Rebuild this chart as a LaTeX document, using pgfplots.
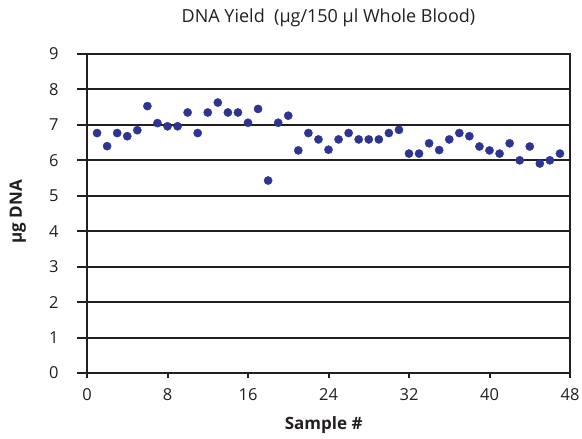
\documentclass[border=0pt]{standalone}
\usepackage{fontspec}
\setmainfont{Open Sans}
\usepackage{pgfplots}
\pgfplotsset{compat=1.18}
\definecolor{dotblue}{RGB}{46,52,145}
\definecolor{ink}{RGB}{35,31,32}
\begin{document}
\begin{tikzpicture}[x=1bp,y=1bp]
\path[use as bounding box] (0,0) rectangle (582,439);
\begin{axis}[
  at={(87bp,66bp)}, anchor=south west,
  width=483bp, height=319bp, scale only axis,
  xmin=0, xmax=48, ymin=0, ymax=9,
  xtick={0,8,...,48}, ytick={0,1,...,9},
  /pgf/number format/assume math mode=true,
  axis line style={ink, line width=2.2bp},
  ymajorgrids, grid style={ink, line width=2bp},
  tick style={ink, line width=2bp},
  tick align=outside, tick pos=left,
  major tick length=10bp,
  xtick style={/pgfplots/major tick length=5bp},
  ticklabel style={font=\fontsize{16.5bp}{19bp}\selectfont, text=ink},
  yticklabel style={xshift=-15bp},
  xticklabel style={yshift=-2bp},
  title={DNA Yield\ \ (µg/150 µl Whole Blood)},
  title style={at={(axis description cs:0.5,1)}, anchor=center, yshift=30bp, font=\fontsize{18bp}{21bp}\selectfont, text=ink},
  xlabel={\bfseries Sample \#},
  xlabel style={at={(axis description cs:0.49,0)}, anchor=center, yshift=-52bp, font=\fontsize{17bp}{20bp}\selectfont, text=ink},
  ylabel={\bfseries µg DNA},
  ylabel style={at={(axis description cs:-0.143,0.505)}, anchor=center, font=\fontsize{17bp}{20bp}\selectfont, text=ink},
]
\addplot[only marks, mark=*, mark size=4.1bp, mark options={draw=dotblue, fill=dotblue}] coordinates {
(1,6.77) (2,6.40) (3,6.77) (4,6.68) (5,6.85) (6,7.53) (7,7.05) (8,6.96)
(9,6.96) (10,7.35) (11,6.77) (12,7.35) (13,7.63) (14,7.35) (15,7.35) (16,7.06)
(17,7.45) (18,5.43) (19,7.06) (20,7.26) (21,6.28) (22,6.77) (23,6.59) (24,6.30)
(25,6.59) (26,6.77) (27,6.59) (28,6.59) (29,6.59) (30,6.77) (31,6.86) (32,6.19)
(33,6.19) (34,6.48) (35,6.29) (36,6.59) (37,6.77) (38,6.68) (39,6.39) (40,6.28)
(41,6.19) (42,6.48) (43,6.00) (44,6.39) (45,5.91) (46,6.00) (47,6.19)
};
\end{axis}
\end{tikzpicture}
\end{document}
